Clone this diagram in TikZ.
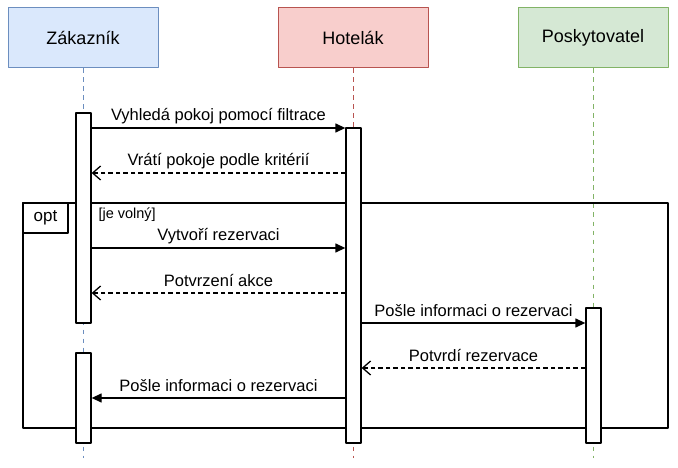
\documentclass[tikz,border=0pt]{standalone}
\usepackage{fontspec}
\setmainfont{Liberation Sans}
\usetikzlibrary{arrows.meta}
\definecolor{zakfill}{HTML}{DAE8FC}
\definecolor{zakline}{HTML}{6C8EBF}
\definecolor{hotfill}{HTML}{F8CECC}
\definecolor{hotline}{HTML}{B85450}
\definecolor{posfill}{HTML}{D5E8D4}
\definecolor{posline}{HTML}{82B366}
\begin{document}
\begin{tikzpicture}[x=1pt, y=-1pt, line join=round, font=\fontsize{16.5}{19}\selectfont,
    head/.style={draw, minimum width=150pt, minimum height=60pt, line width=1pt, font=\fontsize{18}{20}\selectfont},
    act/.style={draw, fill=white, minimum width=15pt, inner sep=0pt, line width=1.3pt},
    life/.style={dash pattern=on 4.5pt off 4.5pt, line width=1pt},
    msg/.style={line width=1.3pt, -{Triangle[length=10pt,width=9pt]}},
    reply/.style={line width=1.3pt, dash pattern=on 4.5pt off 3pt, -{Straight Barb[length=8pt,width=14pt]}},
    lbl/.style={midway, yshift=12pt}]
  \useasboundingbox (0,0) rectangle (678,468);
  % participants
  \node[head, fill=zakfill, draw=zakline] (zak) at (83,38) {Zákazník};
  \node[head, fill=hotfill, draw=hotline] (hot) at (353,38) {Hotelák};
  \node[head, fill=posfill, draw=posline] (pos) at (593,38) {Poskytovatel};
  \coordinate (end) at (0,458);
  \draw[life, zakline] (zak.south) -- (zak.south |- end);
  \draw[life, hotline] (hot.south) -- (hot.south |- end);
  \draw[life, posline] (pos.south) -- (pos.south |- end);
  % opt frame
  \node[draw, line width=1.3pt, minimum width=645pt, minimum height=225pt] (opt) at (345.5,315.5) {};
  % activations
  \node[act, minimum height=210pt] (za1) at (83.5,218) {};
  \node[act, minimum height=90pt] (za2) at (83.5,398) {};
  \node[act, minimum height=315pt] (ho1) at (353.5,285.5) {};
  \node[act, minimum height=135pt] (po1) at (593.5,375.5) {};
  \node[draw, fill=white, line width=1.3pt, anchor=north west, minimum width=45pt, minimum height=30pt,
    font=\fontsize{17}{19}\selectfont] (optlbl) at (opt.north west) {opt};
  \node[anchor=west, font=\fontsize{14.5}{16}\selectfont] (guard) at (95,215) {[je volný]};
  % messages
  \foreach \n/\y in {1/128,2/173,3/248,4/293,5/323,6/368,7/398}
    \coordinate (m\n) at (0,\y);
  \draw[msg] (za1.east |- m1) -- node[lbl] {Vyhledá pokoj pomocí filtrace} (ho1.west |- m1);
  \draw[reply] (ho1.west |- m2) -- node[lbl] {Vrátí pokoje podle kritérií} (za1.east |- m2);
  \draw[msg] (za1.east |- m3) -- node[lbl] {Vytvoří rezervaci} (ho1.west |- m3);
  \draw[reply] (ho1.west |- m4) -- node[lbl] {Potvrzení akce} (za1.east |- m4);
  \draw[msg] (ho1.east |- m5) -- node[lbl] {Pošle informaci o rezervaci} (po1.west |- m5);
  \draw[reply] (po1.west |- m6) -- node[lbl] {Potvrdí rezervace} (ho1.east |- m6);
  \draw[msg] (ho1.west |- m7) -- node[lbl] {Pošle informaci o rezervaci} (za2.east |- m7);
\end{tikzpicture}
\end{document}
